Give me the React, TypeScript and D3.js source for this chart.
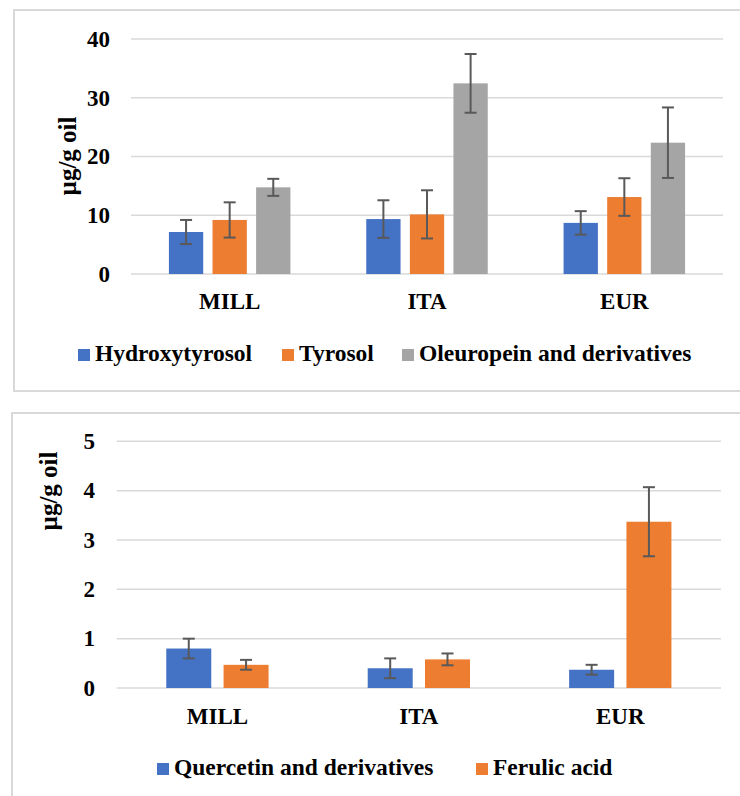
import React from "react";
import * as d3 from "d3";

const categories = ["MILL", "ITA", "EUR"];

const topSeries = ["Hydroxytyrosol", "Tyrosol", "Oleuropein and derivatives"];
const hydroxytyrosol = [7.15, 9.35, 8.7];
const hydroxytyrosolErr = [2.05, 3.2, 2.0];
const tyrosol = [9.2, 10.15, 13.1];
const tyrosolErr = [3.0, 4.1, 3.2];
const oleuropein = [14.75, 32.45, 22.35];
const oleuropeinErr = [1.45, 5.0, 6.0];
const topTicks = [0, 10, 20, 30, 40];

const bottomSeries = ["Quercetin and derivatives", "Ferulic acid"];
const quercetin = [0.8, 0.4, 0.37];
const quercetinErr = [0.2, 0.2, 0.1];
const ferulic = [0.47, 0.58, 3.37];
const ferulicErr = [0.1, 0.12, 0.7];
const bottomTicks = [0, 1, 2, 3, 4, 5];

const colors = ["#4472C4", "#ED7D31", "#A5A5A5"];
const FONT = "'Liberation Serif', 'Times New Roman', serif";

type Panel = {
  box: { x: number; y: number; w: number; h: number };
  plot: { x0: number; x1: number; y0: number; y1: number };
  domainMax: number;
  ticks: number[];
  values: number[][];
  errors: number[][];
  names: string[];
  barW: number;
  barGap: number;
  catBaseline: number;
  yLabel: { x: number; y: number };
  tickRight: number;
  legend: { y: number; xs: number[] };
};

function ChartPanel({ p }: { p: Panel }) {
  const x = d3.scaleBand<string>().domain(categories).range([p.plot.x0, p.plot.x1]);
  const y = d3.scaleLinear().domain([0, p.domainMax]).range([p.plot.y0, p.plot.y1]);
  const n = p.values.length;
  const groupW = n * p.barW + (n - 1) * p.barGap;
  const inner = d3
    .scaleBand<number>()
    .domain(d3.range(n))
    .range([0, groupW])
    .paddingInner(p.barGap / (p.barW + p.barGap))
    .paddingOuter(0);
  return (
    <g>
      <rect
        x={p.box.x}
        y={p.box.y}
        width={p.box.w}
        height={p.box.h}
        fill="#fff"
        stroke="#d9d9d9"
        strokeWidth={2}
      />
      {p.ticks.map((t) => (
        <g key={t}>
          <line
            x1={p.plot.x0}
            x2={p.plot.x1}
            y1={y(t)}
            y2={y(t)}
            stroke="#d9d9d9"
            strokeWidth={1.5}
          />
          <text
            x={p.tickRight}
            y={y(t)}
            dy="0.34em"
            textAnchor="end"
            fontFamily={FONT}
            fontWeight="bold"
            fontSize={23}
            fill="#000"
          >
            {t}
          </text>
        </g>
      ))}
      {categories.map((c, ci) => {
        const gx = (x(c) as number) + x.bandwidth() / 2 - groupW / 2;
        return (
          <g key={c}>
            {p.values.map((vals, si) => {
              const bx = gx + (inner(si) as number);
              const v = vals[ci];
              const e = p.errors[si][ci];
              const cx = bx + inner.bandwidth() / 2;
              return (
                <g key={si}>
                  <rect
                    x={bx}
                    y={y(v)}
                    width={inner.bandwidth()}
                    height={y(0) - y(v)}
                    fill={colors[si]}
                  />
                  <line x1={cx} x2={cx} y1={y(v + e)} y2={y(v - e)} stroke="#595959" strokeWidth={2} />
                  <line x1={cx - 6} x2={cx + 6} y1={y(v + e)} y2={y(v + e)} stroke="#595959" strokeWidth={2} />
                  <line x1={cx - 6} x2={cx + 6} y1={y(v - e)} y2={y(v - e)} stroke="#595959" strokeWidth={2} />
                </g>
              );
            })}
            <text
              x={(x(c) as number) + x.bandwidth() / 2}
              y={p.catBaseline}
              textAnchor="middle"
              fontFamily={FONT}
              fontWeight="bold"
              fontSize={23}
              fill="#000"
            >
              {c}
            </text>
          </g>
        );
      })}
      <text
        transform={`translate(${p.yLabel.x},${p.yLabel.y}) rotate(-90)`}
        textAnchor="middle"
        dy="0.34em"
        fontFamily={FONT}
        fontWeight="bold"
        fontSize={25}
        fill="#000"
      >
        µg/g oil
      </text>
      {p.names.map((name, i) => (
        <g key={name}>
          <rect x={p.legend.xs[i]} y={p.legend.y - 12} width={12} height={12} fill={colors[i]} />
          <text
            x={p.legend.xs[i] + 17}
            y={p.legend.y}
            fontFamily={FONT}
            fontWeight="bold"
            fontSize={23.5}
            fill="#000"
          >
            {name}
          </text>
        </g>
      ))}
    </g>
  );
}

export default function App() {
  const top: Panel = {
    box: { x: 14, y: 10, w: 740, h: 381 },
    plot: { x0: 131, x1: 723, y0: 274, y1: 39 },
    domainMax: 40,
    ticks: topTicks,
    values: [hydroxytyrosol, tyrosol, oleuropein],
    errors: [hydroxytyrosolErr, tyrosolErr, oleuropeinErr],
    names: topSeries,
    barW: 34.3,
    barGap: 9.3,
    catBaseline: 309,
    yLabel: { x: 67, y: 156 },
    tickRight: 110,
    legend: { y: 361, xs: [78, 282, 402] },
  };
  const bottom: Panel = {
    box: { x: 12, y: 413, w: 740, h: 400 },
    plot: { x0: 116.7, x1: 721, y0: 688, y1: 441.3 },
    domainMax: 5,
    ticks: bottomTicks,
    values: [quercetin, ferulic],
    errors: [quercetinErr, ferulicErr],
    names: bottomSeries,
    barW: 45,
    barGap: 12.3,
    catBaseline: 724,
    yLabel: { x: 48, y: 491 },
    tickRight: 95,
    legend: { y: 775, xs: [157, 476] },
  };
  return (
    <svg
      width={740}
      height={796}
      style={{ position: "absolute", left: 0, top: 0, display: "block", background: "#fff" }}
    >
      <rect width={740} height={796} fill="#fff" />
      <ChartPanel p={top} />
      <ChartPanel p={bottom} />
    </svg>
  );
}
